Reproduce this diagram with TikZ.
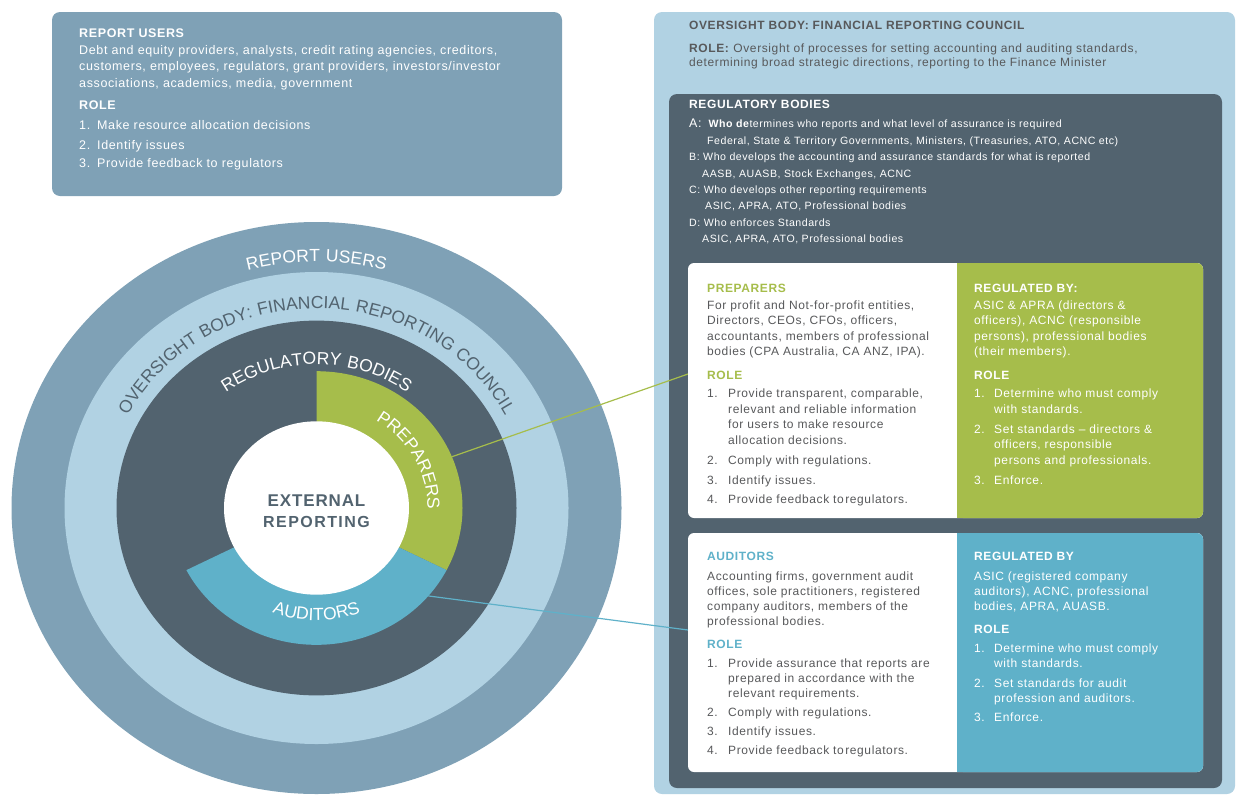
\documentclass[tikz,border=0pt]{standalone}
\usepackage{fontspec}
\setmainfont{Liberation Sans}[LetterSpace=5]
\usetikzlibrary{decorations.text}

\definecolor{usersblue}{HTML}{7FA1B6}
\definecolor{councilblue}{HTML}{B1D2E3}
\definecolor{regslate}{HTML}{52636F}
\definecolor{prepgreen}{HTML}{A6BD4B}
\definecolor{audteal}{HTML}{5FB1C9}
\definecolor{inkgray}{HTML}{58595B}

\newcommand{\numbox}[2][20pt]{\makebox[#1][l]{#2}}
\newcommand{\ringfont}{\fontsize{17.5}{20}\selectfont}

\tikzset{
  panel/.style={rounded corners=8pt},
  card/.style={rounded corners=6pt},
  blurb/.style={anchor=north west, inner sep=0pt, align=left, font=\fontsize{12}{15.5}\selectfont},
  ring/.style={decorate, decoration={text along path, text align=center, text color=white, text={#1}}},
  link/.style={line width=1.2pt},
}

\begin{document}
\begin{tikzpicture}[x=1pt, y=1pt]
\useasboundingbox (0,0) rectangle (1236,-795);
% the target of rings
\coordinate (c) at (316.5,-508);
\fill[usersblue] (c) ellipse [x radius=305, y radius=286];
\fill[councilblue] (c) ellipse [x radius=252, y radius=236];
\fill[regslate] (c) ellipse [x radius=200, y radius=187.4];
\fill[prepgreen] (c) -- ++(90:146 and 136.8) arc[start angle=90, end angle=-27, x radius=146, y radius=136.8] -- cycle;
\fill[audteal] (c) -- ++(-27:146 and 136.8) arc[start angle=-27, end angle=-153, x radius=146, y radius=136.8] -- cycle;
\fill[white] (c) ellipse [x radius=92.5, y radius=86.7];

\path[ring={|\ringfont|REPORT USERS}] (c) ++(130:263 and 246.4) arc[start angle=130, end angle=50, x radius=263, y radius=246.4];
\path[ring={|\ringfont|OVERSIGHT BODY: FINANCIAL REPORTING COUNCIL}, decoration={text color=regslate}] (c) ++(175:213 and 199.6) arc[start angle=175, end angle=5, x radius=213, y radius=199.6];
\path[ring={|\ringfont|REGULATORY BODIES}] (c) ++(160:153 and 143.4) arc[start angle=160, end angle=20, x radius=153, y radius=143.4];
\path[ring={|\ringfont|PREPARERS}] (c) ++(75:111 and 104) arc[start angle=75, end angle=-19, x radius=111, y radius=104];
\path[ring={|\ringfont|AUDITORS}] (c) ++(-140:120 and 112.4) arc[start angle=-140, end angle=-40, x radius=120, y radius=112.4];

\node[font=\bfseries\fontsize{17}{21}\selectfont, text=regslate, align=center] (hub) at ([yshift=-3.5pt]c)
  {EXTERNAL\\{\addfontfeatures{LetterSpace=9}\fontsize{16}{21}\selectfont REPORTING}};

% report users panel
\fill[usersblue, panel] (52,-12) rectangle (562,-196);
\node[blurb, text=white, font=\fontsize{12.5}{16.5}\selectfont] (users) at (79,-28.5) {%
  \textbf{REPORT USERS}\\[0.5pt]
  Debt and equity providers, analysts, credit rating agencies, creditors,\\
  customers, employees, regulators, grant providers, investors/investor\\
  associations, academics, media, government\\[5.5pt]
  \textbf{ROLE}\\[3.5pt]
  \numbox[18pt]{1.}Make resource allocation decisions\\[3.5pt]
  \numbox[18pt]{2.}Identify issues\\[1.5pt]
  \numbox[18pt]{3.}Provide feedback to regulators};

% oversight body panel
\fill[councilblue, panel] (654,-12) rectangle (1235,-794);
\node[blurb, text=inkgray, font=\fontsize{12}{14}\selectfont] (council) at (689,-20.5) {%
  \textbf{OVERSIGHT BODY: FINANCIAL REPORTING COUNCIL}\\[9pt]
  \textbf{ROLE:} Oversight of processes for setting accounting and auditing standards,\\
  determining broad strategic directions, reporting to the Finance Minister};

% regulatory bodies panel
\fill[regslate, panel] (669,-94) rectangle (1222,-788);
\node[blurb, text=white] (regtitle) at (689,-99.5) {\textbf{REGULATORY BODIES}};
\node[blurb, text=white, font=\fontsize{10.6}{16.4}\selectfont] (reglist) at (689,-119) {%
  {\fontsize{12.5}{16}\selectfont A:}\ \ \textbf{Who de}termines who reports and what level of assurance is required\\
  \hspace*{18pt}Federal, State \& Territory Governments, Ministers, (Treasuries, ATO, ACNC etc)\\
  B: Who develops the accounting and assurance standards for what is reported\\
  \hspace*{13pt}AASB, AUASB, Stock Exchanges, ACNC\\
  C: Who develops other reporting requirements\\
  \hspace*{16pt}ASIC, APRA, ATO, Professional bodies\\
  D: Who enforces Standards\\
  \hspace*{13pt}ASIC, APRA, ATO, Professional bodies};

% connectors from the rings
\path (c) ++(22:146 and 136.8) coordinate (prepfoot);
\path (c) ++(-40:146 and 136.8) coordinate (audfoot);
\coordinate (preptip) at (688,-374);
\coordinate (audtip) at (688,-630);
\draw[link, prepgreen] (prepfoot) -- (preptip);
\draw[link, audteal] (audfoot) -- (audtip);

% preparers card
\fill[white, card] (688,-263) rectangle (1203,-518);
\fill[prepgreen, card] (957,-263) rectangle (1203,-518);
\fill[prepgreen] (957,-263) rectangle (970,-518);
\node[blurb, text=inkgray] (prepinfo) at (707,-283.6) {%
  \textcolor{prepgreen}{\textbf{PREPARERS}}\\[1.5pt]
  For profit and Not-for-profit entities,\\
  Directors, CEOs, CFOs, officers,\\
  accountants, members of professional\\
  bodies (CPA Australia, CA ANZ, IPA).\\[8.5pt]
  \textcolor{prepgreen}{\textbf{ROLE}}\\[2.5pt]
  \numbox[21pt]{1.}Provide transparent, comparable,\\
  \numbox[21pt]{}relevant and reliable information\\
  \numbox[21pt]{}for users to make resource\\
  \numbox[21pt]{}allocation decisions.\\[4.5pt]
  \numbox[21pt]{2.}Comply with regulations.\\[4.5pt]
  \numbox[21pt]{3.}Identify issues.\\[4pt]
  \numbox[21pt]{4.}Provide feedback to\hspace{1.5pt}regulators.};
\node[blurb, text=white] (prepreg) at (974,-283.6) {%
  \textbf{REGULATED BY:}\\[1.5pt]
  ASIC \& APRA (directors \&\\
  officers), ACNC (responsible\\
  persons), professional bodies\\
  (their members).\\[8.5pt]
  \textbf{ROLE}\\[2.5pt]
  \numbox{1.}Determine who must comply\\
  \numbox{}with standards.\\[4.5pt]
  \numbox{2.}Set standards -- directors \&\\
  \numbox{}officers, responsible\\
  \numbox{}persons and professionals.\\[4.5pt]
  \numbox{3.}Enforce.};

% auditors card
\fill[white, card] (688,-533) rectangle (1203,-772);
\fill[audteal, card] (957,-533) rectangle (1203,-772);
\fill[audteal] (957,-533) rectangle (970,-772);
\node[blurb, text=inkgray, font=\fontsize{12}{15}\selectfont] (audinfo) at (707,-551.6) {%
  \textcolor{audteal}{\textbf{AUDITORS}}\\[5pt]
  Accounting firms, government audit\\
  offices, sole practitioners, registered\\
  company auditors, members of the\\
  professional bodies.\\[8pt]
  \textcolor{audteal}{\textbf{ROLE}}\\[4pt]
  \numbox[21pt]{1.}Provide assurance that reports are\\
  \numbox[21pt]{}prepared in accordance with the\\
  \numbox[21pt]{}relevant requirements.\\[4pt]
  \numbox[21pt]{2.}Comply with regulations.\\[4.5pt]
  \numbox[21pt]{3.}Identify issues.\\[4pt]
  \numbox[21pt]{4.}Provide feedback to\hspace{1.5pt}regulators.};
\node[blurb, text=white, font=\fontsize{12}{15}\selectfont] (audreg) at (974,-551.6) {%
  \textbf{REGULATED BY}\\[5pt]
  ASIC (registered company\\
  auditors), ACNC, professional\\
  bodies, APRA, AUASB.\\[8pt]
  \textbf{ROLE}\\[4pt]
  \numbox{1.}Determine who must comply\\
  \numbox{}with standards.\\[5pt]
  \numbox{2.}Set standards for audit\\
  \numbox{}profession and auditors.\\[4pt]
  \numbox{3.}Enforce.};
\end{tikzpicture}
\end{document}
